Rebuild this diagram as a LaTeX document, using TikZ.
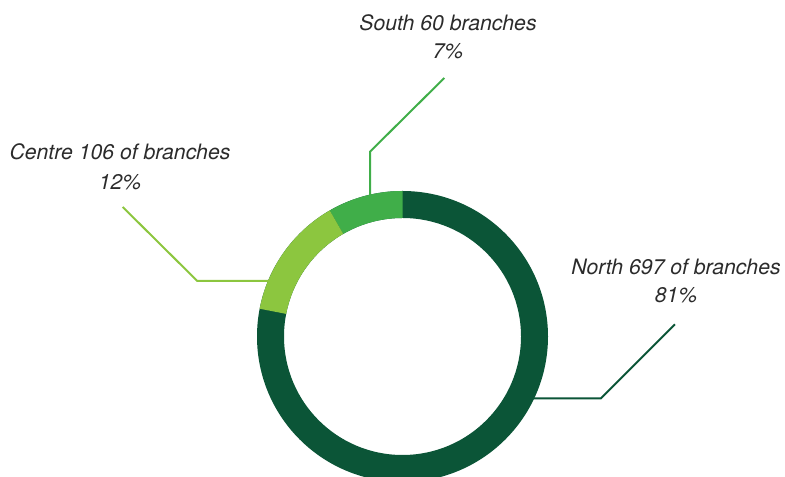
\documentclass[tikz,border=0pt]{standalone}
\usepackage{fontspec}
\setmainfont{TeX Gyre Heros}
\definecolor{northc}{HTML}{0B5537}
\definecolor{southc}{HTML}{40AE49}
\definecolor{centrec}{HTML}{8CC63F}
\definecolor{txtc}{HTML}{2B2B2B}
\begin{document}
\begin{tikzpicture}[x=1bp,y=1bp,
  lbl/.style={anchor=base,inner sep=0pt,text=txtc,font=\fontsize{21.2bp}{28bp}\selectfont\itshape},
  leader/.style={line width=2bp,line join=miter}]
\useasboundingbox (0,0) rectangle (785,477);
% ring
\coordinate (ctr) at (402.5,140.5);
\begin{scope}[shift={(ctr)}]
  \fill[northc,even odd rule] (0,0) circle[radius=145.5] (0,0) circle[radius=118.5];
  \fill[southc] (90:145.5) arc[start angle=90,end angle=120,radius=145.5]
     -- (120:118.5) arc[start angle=120,end angle=90,radius=118.5] -- cycle;
  \fill[centrec] (120:145.5) arc[start angle=120,end angle=169,radius=145.5]
     -- (169:118.5) arc[start angle=169,end angle=120,radius=118.5] -- cycle;
\end{scope}
% labels
\node[lbl] (south1) at (448,446) {South 60 branches};
\node[lbl] (south2) at (448,418.7) {7\%};
\node[lbl] (centre1) at (120,317) {Centre 106 of branches};
\node[lbl] (centre2) at (120,287) {12\%};
\node[lbl] (north1) at (676,202) {North 697 of branches};
\node[lbl] (north2) at (676,174) {81\%};
% leaders
\coordinate (sA) at (444.3,399);
\coordinate (sB) at (370,325.3);
\coordinate (sC) at (370,277);
\coordinate (cA) at (122.7,270);
\coordinate (cB) at (197.3,196);
\coordinate (cC) at (275,196);
\coordinate (nA) at (675,152.7);
\coordinate (nB) at (601,78.7);
\coordinate (nC) at (530,78.7);
\draw[leader,southc] (sA) -- (sB) -- (sC);
\draw[leader,centrec] (cA) -- (cB) -- (cC);
\draw[leader,northc] (nA) -- (nB) -- (nC);
\end{tikzpicture}
\end{document}
